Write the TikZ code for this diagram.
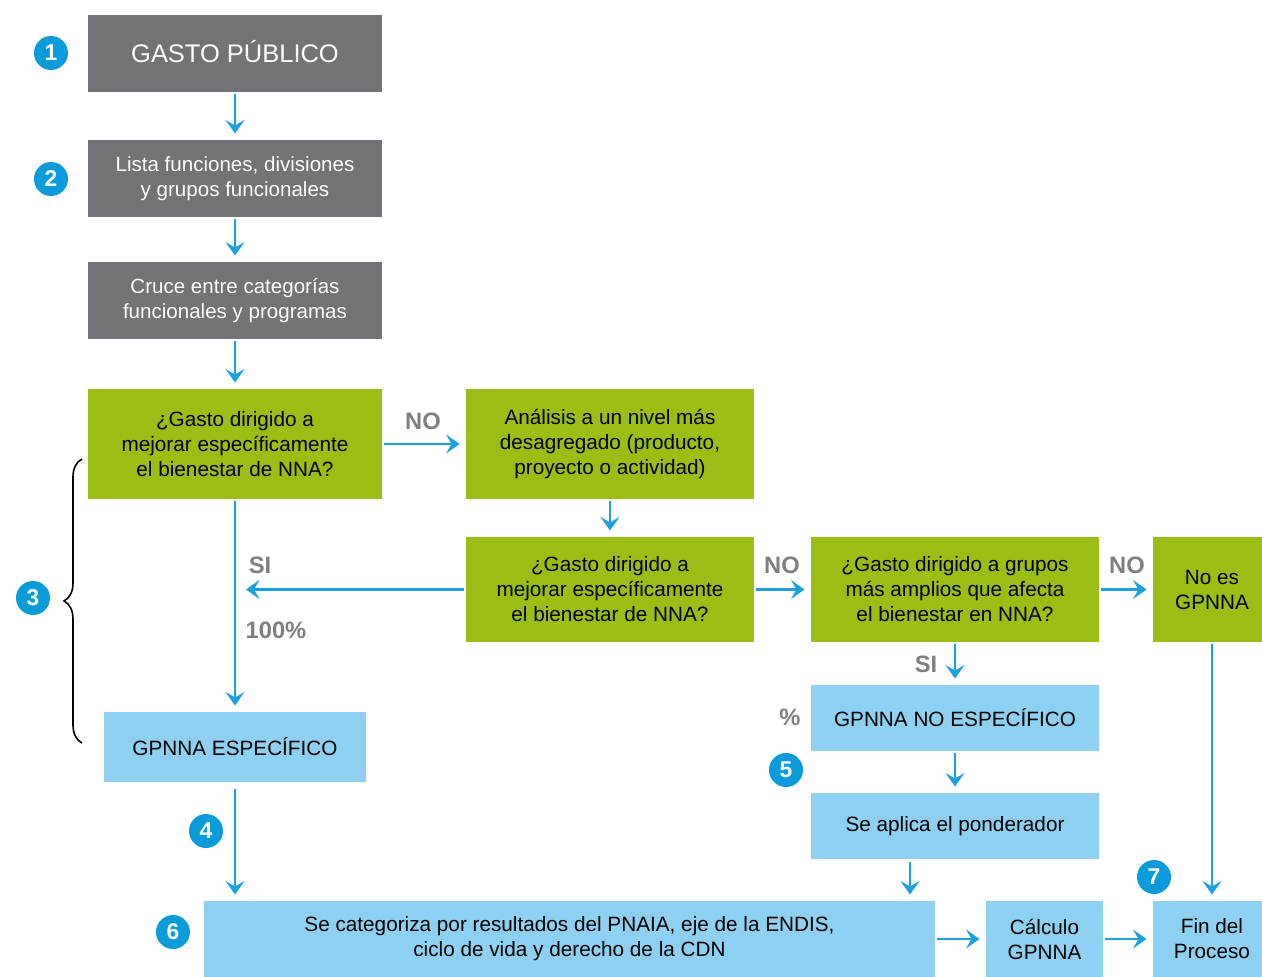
\documentclass[tikz,border=0pt]{standalone}
\usepackage{fontspec}
\setmainfont{Liberation Sans}
\usetikzlibrary{positioning,arrows.meta,decorations.pathreplacing}
\definecolor{grisbox}{HTML}{737276}
\definecolor{verdebox}{HTML}{9BBD14}
\definecolor{azulbox}{HTML}{8ED0F1}
\definecolor{azulflecha}{HTML}{1BA1DE}
\definecolor{azulnum}{HTML}{0A9BDA}
\definecolor{grislabel}{HTML}{7F7F80}
\tikzset {
    style gris/.style={
        fill=grisbox,
        text=white,
        rectangle, % caja gris
        inner sep=0pt, outer sep=0pt,
        minimum width=5.88cm,
        minimum height=1.54cm,
        font=\fontsize{11.7}{14.2}\selectfont,
        align=center,
    },
    style verde/.style={
        fill=verdebox,
        text=black,
        rectangle, % caja verde
        inner sep=0pt, outer sep=0pt,
        minimum width=5.76cm,
        minimum height=2.1cm,
        font=\fontsize{11.8}{14.2}\selectfont,
        align=center,
    },
    style azul/.style={
        fill=azulbox,
        text=black,
        rectangle, % caja azul
        inner sep=0pt, outer sep=0pt,
        minimum width=5.76cm,
        minimum height=1.32cm,
        font=\fontsize{11.8}{14.2}\selectfont,
        align=center,
    },
    style num/.style={
        circle,
        fill=azulnum,
        text=white,
        inner sep=0pt,
        minimum size=0.68cm,
        font=\bfseries\fontsize{13}{13}\selectfont,
    },
    style etiqueta/.style={
        text=grislabel,
        inner sep=0pt,
        font=\bfseries\fontsize{13.5}{14}\selectfont,
    },
    flecha/.style={
        draw=azulflecha,
        line width=1.5pt,
        -{Stealth[length=0.27cm,width=0.38cm,inset=0.11cm]},
        shorten <=0.05cm,
        shorten >=0.13cm,
    },
}

\begin{document}
\begin{tikzpicture}[x=0.02cm, y=-0.02cm]
\useasboundingbox (0,0) rectangle (1262,977);

\node[style gris, font=\fontsize{14.5}{16}\selectfont] at (235,53.5) (gasto) {\raisebox{0.07cm}{GASTO PÚBLICO}};
\node[style gris] at (235,178.5) (lista) {Lista funciones, divisiones\\y grupos funcionales};
\node[style gris] at (235,300.5) (cruce) {Cruce entre categorías\\funcionales y programas};

\node[style verde, minimum width=5.88cm, minimum height=2.2cm] at (235,444) (preg1) {¿Gasto dirigido a\\mejorar específicamente\\el bienestar de NNA?};
\node[style verde, minimum height=2.2cm] at (610,444) (analisis) {Análisis a un nivel más\\desagregado (producto,\\proyecto o actividad)};
\node[style verde] at (610,589.5) (preg2) {¿Gasto dirigido a\\mejorar específicamente\\el bienestar de NNA?};
\node[style verde] at (955,589.5) (preg3) {¿Gasto dirigido a grupos\\más amplios que afecta\\el bienestar en NNA?};
\node[style verde, minimum width=2.36cm] at (1212,589.5) (noes) {No es\\GPNNA};

\node[style azul, minimum width=5.24cm, minimum height=1.4cm] at (235,747) (especifico) {GPNNA ESPECÍFICO};
\node[style azul] at (955,718) (noesp) {GPNNA NO ESPECÍFICO};
\node[style azul] at (955,826) (pond) {Se aplica el ponderador};
\node[style azul, minimum width=14.62cm, minimum height=1.52cm] at (569.5,939) (categ) {Se categoriza por resultados del PNAIA, eje de la ENDIS,\\ciclo de vida y derecho de la CDN};
\node[style azul, minimum width=2.34cm, minimum height=1.52cm] at (1044.5,939) (calculo) {Cálculo\\GPNNA};
\node[style azul, minimum width=2.36cm, minimum height=1.52cm] at (1212,939) (fin) {Fin del\\Proceso};

% numeros de paso
\node[style num] at (51,53) (n1) {1};
\node[style num] at (51,179) (n2) {2};
\node[style num] at (33,598) (n3) {3};
\node[style num] at (206,831) (n4) {4};
\node[style num] at (786,770) (n5) {5};
\node[style num] at (173,932) (n6) {6};
\node[style num] at (1154,877) (n7) {7};

% etiquetas
\node[style etiqueta] at (423,421) (no1) {NO};
\node[style etiqueta] at (260,565) (si1) {SI};
\node[style etiqueta] at (276,630) (cien) {100\%};
\node[style etiqueta] at (782,565) (no2) {NO};
\node[style etiqueta] at (1127,565) (no3) {NO};
\node[style etiqueta] at (926,664) (si2) {SI};
\node[style etiqueta] at (790,717) (pct) {\%};

\coordinate (llave1) at (82,743);
\coordinate (llave2) at (82,459);
\draw[black, line width=0.9pt, decorate, decoration={brace, amplitude=0.36cm}] (llave1) -- (llave2);

\draw[flecha] (gasto) -- (lista);
\draw[flecha] (lista) -- (cruce);
\draw[flecha] (cruce) -- (preg1);
\draw[flecha] (preg1) -- (analisis);
\draw[flecha] (analisis) -- (preg2);
\draw[flecha] (preg1) -- (especifico);
\draw[flecha, shorten >=0.22cm] (preg2) -- (preg2 -| preg1.south);
\draw[flecha] (preg2) -- (preg3);
\draw[flecha] (preg3) -- (noes);
\draw[flecha] (preg3) -- (noesp);
\draw[flecha] (noesp) -- (pond);
\draw[flecha] ([xshift=-0.9cm]pond.south) -- ([xshift=-0.9cm]pond.south |- categ.north);
\draw[flecha, shorten <=0.14cm] (especifico.south) -- (especifico.south |- categ.north);
\draw[flecha] (noes) -- (fin);
\draw[flecha] (categ) -- (calculo);
\draw[flecha] (calculo) -- (fin);
\end{tikzpicture}
\end{document}
